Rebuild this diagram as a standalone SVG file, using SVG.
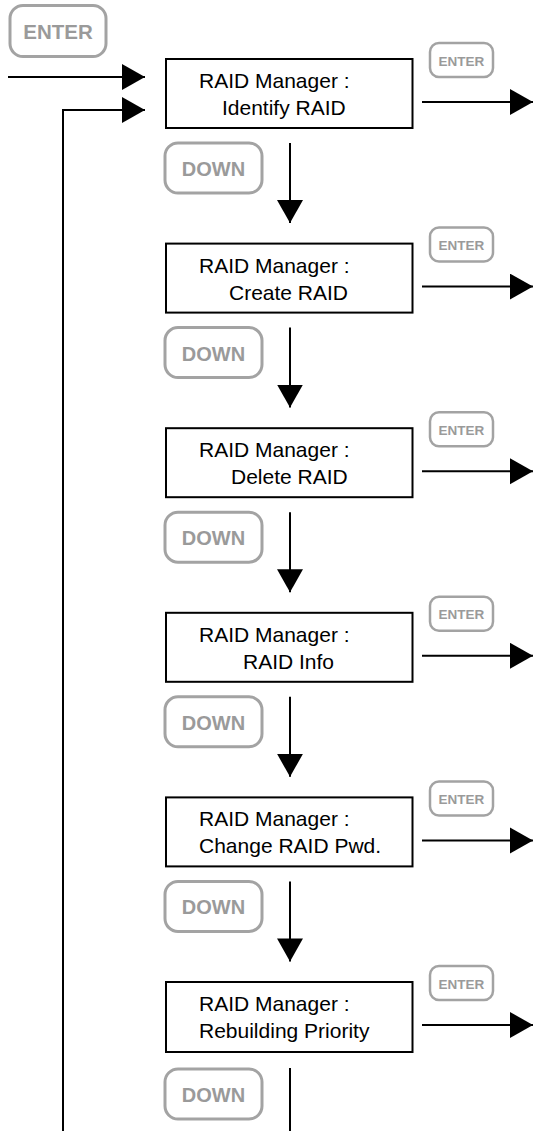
<svg xmlns="http://www.w3.org/2000/svg" width="535" height="1131" viewBox="0 0 535 1131">
<style>
.box{fill:#fff;stroke:#000;stroke-width:2}
.t{font-family:"Liberation Sans",Arial,sans-serif;font-size:21px;fill:#000}
.bb{fill:#fff;stroke:#a3a3a3;stroke-width:3}
.bs{fill:#fff;stroke:#a3a3a3;stroke-width:2.5}
.bt{font-family:"Liberation Sans",Arial,sans-serif;font-weight:bold;fill:#9a9a9a;text-anchor:middle}
.c{fill:none;stroke:#000;stroke-width:2}
</style>
<defs>
<marker id="ah" markerUnits="userSpaceOnUse" markerWidth="24" markerHeight="27" refX="23" refY="13" orient="auto" viewBox="0 0 24 27">
<path d="M0,0 L23,13 L0,26 z" fill="#000"/>
</marker>
</defs>
<g id="connectors">
<line class="c" x1="8" y1="77" x2="145" y2="77" marker-end="url(#ah)"/>
<polyline class="c" points="63,1131 63,110 145,110" marker-end="url(#ah)"/>
<line class="c" x1="422" y1="102" x2="533" y2="102" marker-end="url(#ah)"/>
<line class="c" x1="290" y1="143" x2="290" y2="223" marker-end="url(#ah)"/>
<line class="c" x1="422" y1="286.6" x2="533" y2="286.6" marker-end="url(#ah)"/>
<line class="c" x1="290" y1="327.6" x2="290" y2="407.6" marker-end="url(#ah)"/>
<line class="c" x1="422" y1="471.2" x2="533" y2="471.2" marker-end="url(#ah)"/>
<line class="c" x1="290" y1="512.2" x2="290" y2="592.2" marker-end="url(#ah)"/>
<line class="c" x1="422" y1="655.8" x2="533" y2="655.8" marker-end="url(#ah)"/>
<line class="c" x1="290" y1="696.8" x2="290" y2="776.8" marker-end="url(#ah)"/>
<line class="c" x1="422" y1="840.4" x2="533" y2="840.4" marker-end="url(#ah)"/>
<line class="c" x1="290" y1="881.4" x2="290" y2="961.4" marker-end="url(#ah)"/>
<line class="c" x1="422" y1="1025" x2="533" y2="1025" marker-end="url(#ah)"/>
<line class="c" x1="290" y1="1068" x2="290" y2="1131"/>
</g>
<g id="enter-start">
<rect class="bb" x="10" y="5.5" width="96" height="51" rx="13"/>
<text class="bt" x="58" y="39" font-size="20.5">ENTER</text>
</g>
<g id="node1">
<rect class="box" x="166" y="59" width="246.5" height="69"/>
<text class="t" x="199" y="88">RAID Manager :</text>
<text class="t" x="222" y="115">Identify RAID</text>
</g>
<g id="enter1"><rect class="bs" x="430" y="43" width="63" height="34" rx="9"/><text class="bt" x="461.5" y="65.5" font-size="13.5">ENTER</text></g>
<g id="down1"><rect class="bb" x="165" y="143" width="97" height="50" rx="13"/><text class="bt" x="213.5" y="176" font-size="20">DOWN</text></g>
<g id="node2">
<rect class="box" x="166" y="243.6" width="246.5" height="69"/>
<text class="t" x="199" y="272.6">RAID Manager :</text>
<text class="t" x="229" y="299.6">Create RAID</text>
</g>
<g id="enter2"><rect class="bs" x="430" y="227.6" width="63" height="34" rx="9"/><text class="bt" x="461.5" y="250.1" font-size="13.5">ENTER</text></g>
<g id="down2"><rect class="bb" x="165" y="327.6" width="97" height="50" rx="13"/><text class="bt" x="213.5" y="360.6" font-size="20">DOWN</text></g>
<g id="node3">
<rect class="box" x="166" y="428.2" width="246.5" height="69"/>
<text class="t" x="199" y="457.2">RAID Manager :</text>
<text class="t" x="231" y="484.2">Delete RAID</text>
</g>
<g id="enter3"><rect class="bs" x="430" y="412.2" width="63" height="34" rx="9"/><text class="bt" x="461.5" y="434.7" font-size="13.5">ENTER</text></g>
<g id="down3"><rect class="bb" x="165" y="512.2" width="97" height="50" rx="13"/><text class="bt" x="213.5" y="545.2" font-size="20">DOWN</text></g>
<g id="node4">
<rect class="box" x="166" y="612.8" width="246.5" height="69"/>
<text class="t" x="199" y="641.8">RAID Manager :</text>
<text class="t" x="243" y="668.8">RAID Info</text>
</g>
<g id="enter4"><rect class="bs" x="430" y="596.8" width="63" height="34" rx="9"/><text class="bt" x="461.5" y="619.3" font-size="13.5">ENTER</text></g>
<g id="down4"><rect class="bb" x="165" y="696.8" width="97" height="50" rx="13"/><text class="bt" x="213.5" y="729.8" font-size="20">DOWN</text></g>
<g id="node5">
<rect class="box" x="166" y="797.4" width="246.5" height="69"/>
<text class="t" x="199" y="826.4">RAID Manager :</text>
<text class="t" x="199" y="853.4">Change RAID Pwd.</text>
</g>
<g id="enter5"><rect class="bs" x="430" y="781.4" width="63" height="34" rx="9"/><text class="bt" x="461.5" y="803.9" font-size="13.5">ENTER</text></g>
<g id="down5"><rect class="bb" x="165" y="881.4" width="97" height="50" rx="13"/><text class="bt" x="213.5" y="914.4" font-size="20">DOWN</text></g>
<g id="node6">
<rect class="box" x="166" y="982" width="246.5" height="70"/>
<text class="t" x="199" y="1011">RAID Manager :</text>
<text class="t" x="199" y="1038">Rebuilding Priority</text>
</g>
<g id="enter6"><rect class="bs" x="430" y="966" width="63" height="34" rx="9"/><text class="bt" x="461.5" y="988.5" font-size="13.5">ENTER</text></g>
<g id="down6"><rect class="bb" x="165" y="1069" width="97" height="50" rx="13"/><text class="bt" x="213.5" y="1102" font-size="20">DOWN</text></g>
</svg>
